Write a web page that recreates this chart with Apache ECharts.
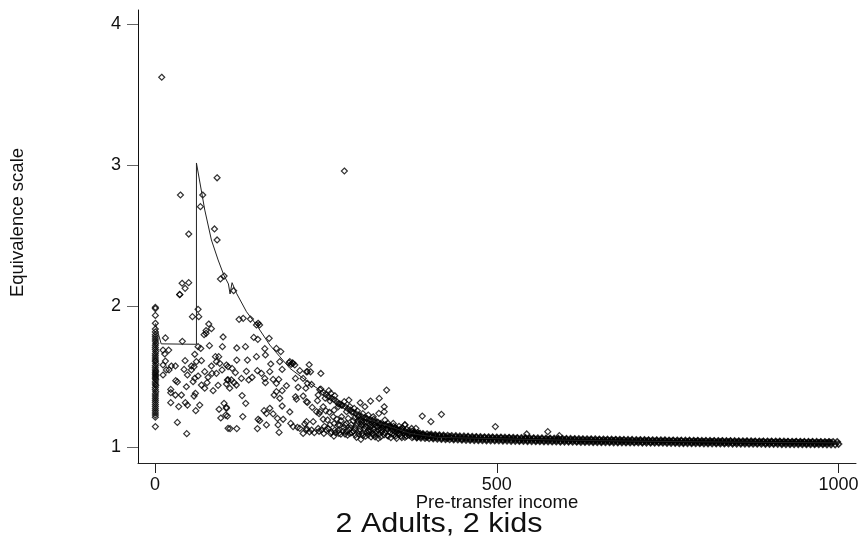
<!DOCTYPE html>
<html>
<head>
<meta charset="utf-8">
<script src="https://cdn.jsdelivr.net/npm/echarts@6/dist/echarts.min.js"></script>
<style>html,body{margin:0;padding:0;background:#fff}#c{width:860px;height:541px}</style>
</head>
<body>
<div id="c"></div>
<script>
var xTicks = [0, 500, 1000];
var yTicks = [1, 2, 3, 4];
var xTitle = 'Pre-transfer income';
var yTitle = 'Equivalence scale';
var caption = '2 Adults, 2 kids';

// households with about zero income: [income, scale]
var zeroIncome = [[0.5,1.994],[0.5,1.985],[0.5,1.937],[0.5,1.881],[0.5,1.84],[0.5,1.82],[0.5,1.80],[0.5,1.785],[0.5,1.77],[0.5,1.755],[1,1.74],[0.5,1.725],[0.5,1.71],[0.5,1.695],[1,1.68],[0.5,1.665],[0.5,1.65],[0.5,1.635],[0.5,1.62],[0.5,1.61],[1,1.595],[0.5,1.58],[0.5,1.565],[0.5,1.55],[1,1.54],[0.5,1.53],[0.5,1.52],[1,1.51],[0.5,1.50],[0.5,1.49],[1,1.48],[0.5,1.465],[0.5,1.45],[1,1.44],[0.5,1.425],[0.5,1.41],[1,1.395],[0.5,1.38],[0.5,1.365],[0.5,1.35],[0.5,1.335],[0.5,1.32],[0.5,1.305],[0.5,1.29],[0.5,1.275],[0.5,1.26],[0.5,1.245],[0.5,1.23],[0.5,1.215],[0.5,1.148]];

var outliers = [[9.8,3.626],[90.8,2.913],[37.2,2.791],[69.8,2.791],[66.4,2.708],[277,2.961],[49.3,2.514],[87,2.55],[90.8,2.472],[101,2.216],[95.7,2.195],[115,2.112],[39.6,2.165],[49.3,2.169],[44,2.129],[36.2,2.084]];

var lowIncome = [[36.1,2.086],[63,1.98],[54.7,1.928],[64,1.928],[78.6,1.876],[82.5,1.843],[74.7,1.829],[71.8,1.80],[74.7,1.81],[15.2,1.777],[99.6,1.784],[40,1.753],[79.6,1.722],[98.6,1.715],[63,1.715],[66.9,1.703],[11.7,1.691],[20,1.691],[14.2,1.663],[58.1,1.661],[15.2,1.613],[11.7,1.585],[44,1.616],[67.9,1.616],[60.5,1.609],[57.1,1.573],[53.2,1.578],[88.4,1.644],[93.2,1.644],[89.8,1.609],[94.7,1.597],[82.5,1.578],[29.8,1.578],[23.9,1.578],[20.5,1.55],[16.6,1.55],[11.7,1.514],[42.5,1.554],[47.4,1.514],[53.2,1.55],[72.7,1.538],[83.5,1.526],[89.8,1.526],[98.1,1.55],[106.9,1.573],[77.6,1.498],[63,1.507],[58.1,1.491],[55.7,1.467],[30.3,1.474],[32.7,1.465],[45.9,1.431],[67.9,1.443],[72.7,1.42],[76.2,1.46],[92.3,1.441],[85,1.403],[106.9,1.479],[104.5,1.45],[23,1.412],[23,1.389],[29.8,1.372],[38.6,1.372],[59.1,1.384],[57.1,1.365],[44.4,1.318],[47.4,1.301],[23,1.318],[34.7,1.29],[65.4,1.301],[59.6,1.261],[93.7,1.271],[101,1.313],[104.5,1.278],[103.5,1.23],[96.2,1.209],[32.7,1.178],[46.4,1.098],[106.9,1.136]];

var midIncome = [[123,1.909],[129,1.916],[139.6,1.911],[148.4,1.869],[153,1.869],[150.8,1.881],[144.5,1.781],[150.4,1.767],[167,1.774],[119.6,1.706],[132.3,1.715],[160.6,1.701],[177.6,1.703],[184,1.68],[161.5,1.656],[148.4,1.644],[119.6,1.62],[135.2,1.62],[169.3,1.592],[182.5,1.609],[197.2,1.609],[202,1.597],[204.5,1.585],[186,1.554],[167.9,1.538],[211.8,1.545],[223,1.538],[205.5,1.49],[216.7,1.49],[223,1.455],[104.4,1.585],[112.7,1.561],[117.6,1.531],[133.7,1.54],[149.8,1.545],[155.7,1.526],[126.4,1.49],[142,1.498],[137.1,1.479],[160.6,1.49],[161.5,1.46],[172.8,1.483],[181,1.483],[177.6,1.455],[192.3,1.438],[105.9,1.479],[111.8,1.479],[115.7,1.46],[119,1.443],[109.3,1.42],[209.4,1.427],[220.6,1.42],[186,1.403],[177.6,1.396],[174.2,1.372],[182.5,1.349],[205.5,1.36],[216.7,1.365],[206.9,1.342],[221.6,1.325],[127.4,1.368],[132.7,1.313],[186,1.294],[197.2,1.252],[104.4,1.285],[105.9,1.223],[128.4,1.219],[159.6,1.261],[167.9,1.278],[163,1.242],[172.8,1.238],[179.1,1.207],[187.4,1.2],[150.8,1.2],[153.2,1.19],[180,1.16],[163,1.16],[149.8,1.134],[109.8,1.134],[119.6,1.134],[181.5,1.107],[198.6,1.171],[202,1.148],[211.8,1.136],[219.1,1.167],[216.7,1.1],[221.6,1.124],[208.4,1.143]];

var upperIncome = [[225.5,1.587],[227.5,1.537],[221.6,1.537],[242.6,1.525],[229,1.447],[242.6,1.414],[254.3,1.403],[257.3,1.384],[263,1.367],[238.7,1.372],[237.7,1.332],[223,1.32],[230,1.284],[236.3,1.254],[241.2,1.254],[246,1.289],[252.4,1.195],[231.4,1.183],[260.7,1.218],[338.8,1.407],[328,1.348],[315.3,1.329],[300.2,1.317],[283.6,1.336],[276.8,1.325],[291.4,1.277],[307,1.289],[335.3,1.289],[335.3,1.254],[327.5,1.242],[280.2,1.254],[268,1.289],[262,1.265],[272.9,1.218],[282.6,1.206],[297.3,1.218],[309.5,1.206],[319.2,1.218],[336.3,1.195],[348.5,1.171],[365.6,1.159],[375.4,1.135],[221.6,1.183],[221.6,1.135],[229,1.124],[238.7,1.135],[243.6,1.124],[253.4,1.135],[263.1,1.124],[270.4,1.159],[280.2,1.112],[292.4,1.135],[302.2,1.159],[314.4,1.147],[326.6,1.124],[338.8,1.135],[353.4,1.124],[365.6,1.112],[261.7,1.081],[271.9,1.095],[281.7,1.088],[294.8,1.072],[301.2,1.058],[326.6,1.065],[341.2,1.081],[353.4,1.065],[365.6,1.072],[377.8,1.076],[272,1.19],[280,1.17],[290,1.19],[266,1.2],[303,1.1],[313,1.11],[320,1.09],[335,1.09],[258,1.11],[268,1.12],[276,1.14],[287,1.16],[296,1.17],[306,1.18],[318,1.17],[326,1.18],[343,1.15],[352,1.14],[360,1.13],[285,1.1],[290,1.115],[298,1.095],[308,1.08],[316,1.075],[323,1.1],[332,1.11],[344,1.105],[350,1.09],[358,1.095],[366,1.09],[372,1.1],[285,1.29],[296,1.26],[304,1.24],[312,1.23],[320,1.2],[330,1.17],[340,1.13],[348,1.125],[356,1.12],[364,1.105],[249,1.35],[256,1.33],[268,1.31],[273,1.3],[288,1.25],[256,1.16],[248,1.15],[306,1.135],[312,1.09],[330,1.075],[345,1.07],[360,1.08],[372,1.085],[380,1.095],[386,1.08],[392,1.09],[398,1.075],[404,1.085],[410,1.075],[365.6,1.162],[381.7,1.136],[391,1.223],[403.6,1.183],[419,1.235],[497.9,1.148],[574.6,1.112],[543.8,1.096],[591.5,1.084]];

var alongCurve = [[196,1.6],[199,1.59],[201,1.6],[241,1.41],[246,1.39],[250,1.375],[254,1.36],[258,1.35],[262,1.34],[266,1.325],[270,1.31],[274,1.3],[278,1.29],[282,1.275],[286,1.265],[290,1.25],[294,1.24],[298,1.23],[302,1.22],[306,1.21],[310,1.205],[314,1.195],[318,1.19],[322,1.18],[326,1.175],[330,1.165],[334,1.16],[338,1.155],[342,1.15],[346,1.145],[350,1.135],[354,1.13],[358,1.125],[362,1.12],[366,1.115],[370,1.105],[374,1.1],[378,1.095]];

var lowerCluster = [[226,1.11],[233,1.105],[240,1.115],[247,1.1],[250,1.125],[257,1.1],[264,1.105],[269,1.1],[275,1.115],[278,1.095],[284,1.125],[288,1.105],[293,1.09],[299,1.115],[304,1.085],[310,1.105],[315,1.125],[318,1.095],[322,1.075],[328,1.095],[331,1.125],[336,1.105],[340,1.085],[347,1.095],[352,1.08],[356,1.1],[361,1.07],[368,1.08],[376,1.07],[383,1.07],[292,1.21],[297,1.19],[301,1.2],[305,1.16],[310,1.18],[314,1.165],[317,1.15],[322,1.165],[325,1.145],[328,1.16],[333,1.15],[337,1.16],[341,1.17],[345,1.13],[349,1.15],[353,1.105],[357,1.15],[362,1.14],[368,1.13],[372,1.12],[376,1.115],[380,1.11],[384,1.105],[388,1.1],[300,1.13],[308,1.15],[312,1.12],[320,1.13],[324,1.12],[334,1.13],[302,1.18],[294,1.155],[286,1.14],[278,1.16],[268,1.16],[262,1.17],[255,1.25],[250,1.26],[246,1.2],[240,1.24]];

var bandIncome = [380,383,386,389,392,395,398,401,404,407,410,413,416,419,422,425,428,431,434,437,440,443,446,449,452,455,458,461,464,467,470,473,476,479,482,485,488,491,494,497,500,503,506,509,512,515,518,521,524,527,530,533,536,539,542,545,548,551,554,557,560,563,566,569,572,575,578,581,584,587,590,593,596,599,602,605,608,611,614,617,620,623,626,629,632,635,638,641,644,647,650,653,656,659,662,665,668,671,674,677,680,683,686,689,692,695,698,701,704,707,710,713,716,719,722,725,728,731,734,737,740,743,746,749,752,755,758,761,764,767,770,773,776,779,782,785,788,791,794,797,800,803,806,809,812,815,818,821,824,827,830,833,836,839,842,845,848,851,854,857,860,863,866,869,872,875,878,881,884,887,890,893,896,899,902,905,908,911,914,917,920,923,926,929,932,935,938,941,944,947,950,953,956,959,962,965,968,971,974,977,980,983,986,989,992,995,998,1000];
var bandScale = [1.094,1.082,1.088,1.079,1.09,1.081,1.075,1.086,1.078,1.071,1.083,1.074,1.08,1.069,1.078,1.072,1.066,1.076,1.07,1.064,1.074,1.067,1.072,1.062,1.07,1.065,1.073,1.061,1.068,1.063,1.071,1.06,1.067,1.062,1.069,1.058,1.066,1.061,1.068,1.057,1.065,1.06,1.067,1.056,1.063,1.059,1.066,1.055,1.062,1.057,1.064,1.053,1.06,1.056,1.063,1.052,1.059,1.055,1.062,1.051,1.058,1.053,1.06,1.05,1.057,1.052,1.059,1.05,1.056,1.051,1.058,1.048,1.055,1.051,1.057,1.047,1.054,1.05,1.056,1.046,1.053,1.049,1.055,1.046,1.052,1.048,1.054,1.045,1.051,1.047,1.053,1.044,1.05,1.047,1.052,1.043,1.05,1.046,1.052,1.042,1.049,1.045,1.051,1.042,1.048,1.044,1.05,1.041,1.047,1.044,1.049,1.04,1.047,1.043,1.049,1.04,1.046,1.042,1.048,1.039,1.045,1.042,1.047,1.039,1.045,1.041,1.047,1.038,1.044,1.041,1.046,1.037,1.043,1.04,1.045,1.037,1.043,1.04,1.045,1.036,1.042,1.039,1.044,1.036,1.042,1.039,1.044,1.035,1.041,1.038,1.043,1.035,1.041,1.038,1.043,1.034,1.04,1.037,1.042,1.034,1.04,1.037,1.042,1.033,1.039,1.036,1.041,1.033,1.039,1.036,1.041,1.032,1.038,1.035,1.04,1.032,1.038,1.035,1.04,1.031,1.037,1.034,1.039,1.031,1.037,1.034,1.039,1.031,1.036,1.033,1.038,1.03,1.036,1.033,1.038,1.03,1.035,1.033,1.037,1.03,1.035,1.032,1.036,1.034];
var bandScaleEdges = [1.103,1.07,1.1,1.068,1.097,1.066,1.095,1.064,1.093,1.063,1.09,1.061,1.088,1.059,1.086,1.058,1.085,1.057,1.083,1.056,1.082,1.055,1.08,1.054,1.08,1.053,1.078,1.052,1.077,1.051,1.076,1.05,1.075,1.05,1.074,1.049,1.074,1.049,1.073,1.048,1.072,1.048,1.072,1.047,1.071,1.047,1.07,1.046,1.07,1.046,1.069,1.045,1.069,1.045,1.068,1.044,1.067,1.044,1.067,1.043,1.066,1.043,1.066,1.042,1.065,1.042,1.065,1.041,1.064,1.041,1.063,1.04,1.063,1.04,1.062,1.04,1.062,1.039,1.061,1.039,1.061,1.038,1.06,1.038,1.06,1.038,1.059,1.037,1.059,1.037,1.058,1.036,1.058,1.036,1.057,1.036,1.057,1.035,1.056,1.035,1.056,1.035,1.055,1.034,1.055,1.034,1.055,1.034,1.054,1.034,1.054,1.033,1.054,1.033,1.053,1.033,1.053,1.032,1.052,1.032,1.052,1.032,1.052,1.031,1.051,1.031,1.051,1.031,1.051,1.03,1.05,1.03,1.05,1.03,1.05,1.029,1.049,1.029,1.049,1.029,1.048,1.028,1.048,1.028,1.048,1.028,1.047,1.028,1.047,1.027,1.047,1.027,1.046,1.027,1.046,1.026,1.046,1.026,1.045,1.026,1.045,1.026,1.045,1.025,1.045,1.025,1.044,1.025,1.044,1.025,1.044,1.024,1.044,1.024,1.043,1.024,1.043,1.024,1.043,1.023,1.043,1.023,1.042,1.023,1.042,1.023,1.042,1.023,1.042,1.022,1.041,1.022,1.041,1.022,1.041,1.022,1.041,1.022,1.04,1.022,1.04,1.021,1.04,1.021,1.04,1.021,1.04,1.024];

var lineIncome = [0.5,9,60.6,60.6,72.8,82.5,92.3,100.6,107.4,109.8,112.7,119.2,133.8,148.4,167.9,182.6,197.2,226.5,255.8,285,314.3,343.6,372.9,412,500,600,700,800,900,1000];
var lineScale = [1.881,1.735,1.732,3.018,2.684,2.472,2.33,2.223,2.16,2.089,2.169,2.094,1.963,1.869,1.727,1.644,1.562,1.455,1.36,1.266,1.195,1.148,1.1,1.072,1.062,1.052,1.045,1.04,1.036,1.033];

var points = zeroIncome.concat(outliers, lowIncome, midIncome, upperIncome, alongCurve, lowerCluster);
var bandPoints = bandIncome.map(function (x, i) { return [x, bandScale[i]]; }).concat(
  bandScaleEdges.map(function (y, i) { return [bandIncome[i], y]; }));
var lineData = lineIncome.map(function (x, i) { return [x, lineScale[i]]; });

var font = '"Liberation Sans", Arial, sans-serif';
var chart = echarts.init(document.getElementById('c'), null, {renderer: 'canvas'});
chart.setOption({
  animation: false,
  backgroundColor: '#fff',
  grid: {left: 138, right: 4, top: 10, bottom: 78, containLabel: false, outerBoundsMode: 'none'},
  xAxis: {
    type: 'value', min: -24.9, max: 1025.5,
    axisLine: {onZero: false, lineStyle: {color: '#222', width: 1}},
    axisTick: {customValues: xTicks, length: 10, lineStyle: {color: '#222', width: 1}},
    axisLabel: {customValues: xTicks, margin: 13, color: '#111', fontFamily: font, fontSize: 18, formatter: function (v) { return String(v); }},
    splitLine: {show: false},
    name: xTitle, nameLocation: 'middle', nameGap: 30, nameMoveOverlap: false,
    nameTextStyle: {color: '#111', fontFamily: font, fontSize: 18.5}
  },
  yAxis: {
    type: 'value', min: 0.89, max: 4.103,
    axisLine: {onZero: false, lineStyle: {color: '#111', width: 1}},
    axisTick: {customValues: yTicks, length: 11, lineStyle: {color: '#666', width: 1}},
    axisLabel: {customValues: yTicks, margin: 17, color: '#111', fontFamily: font, fontSize: 18, formatter: function (v) { return String(v); }},
    splitLine: {show: false},
    name: yTitle, nameLocation: 'middle', nameGap: 111, nameRotate: 90, nameMoveOverlap: false,
    nameTextStyle: {color: '#111', fontFamily: font, fontSize: 18.5, padding: [0, 0, 0, 28]}
  },
  graphic: [{
    type: 'text', x: 439, y: 525, scaleX: 1.13, scaleY: 1, originX: 0, originY: 0,
    style: {text: caption, fontFamily: font, fontSize: 27, fill: '#111', textAlign: 'center', textVerticalAlign: 'middle'}
  }],
  series: [
    {type: 'line', data: lineData, showSymbol: false, silent: true, lineStyle: {color: '#222', width: 1}, z: 3},
    {type: 'scatter', data: points, symbol: 'diamond', symbolSize: 6, silent: true,
      itemStyle: {color: 'rgba(255,255,255,0)', borderColor: '#000', borderWidth: 1.2}, z: 2},
    {type: 'scatter', data: bandPoints, symbol: 'diamond', symbolSize: 6, silent: true,
      itemStyle: {color: 'rgba(255,255,255,0)', borderColor: '#000', borderWidth: 1.6}, z: 2}
  ]
});
</script>
</body>
</html>
